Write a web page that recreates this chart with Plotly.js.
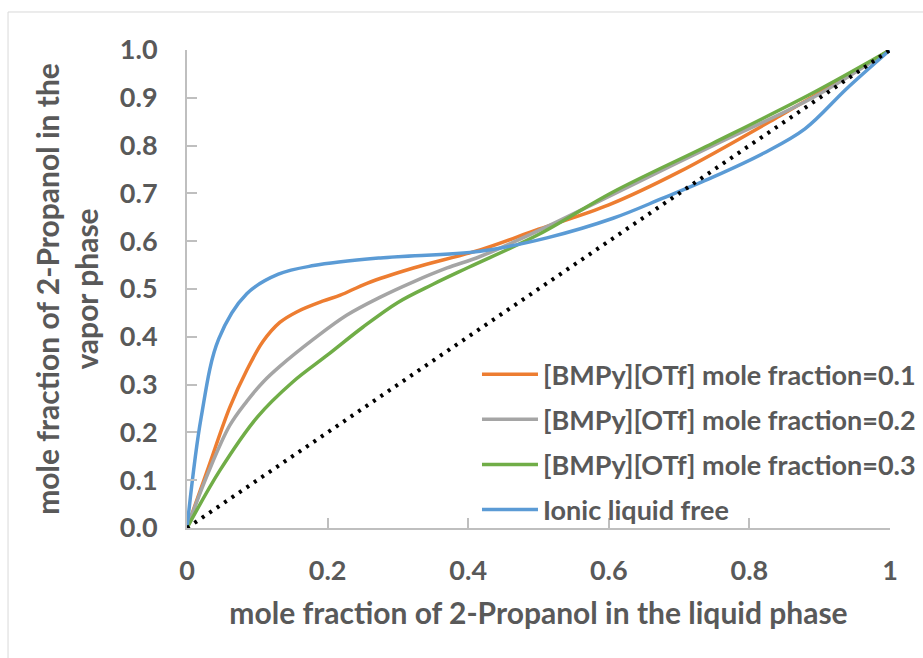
<!DOCTYPE html>
<html>
<head>
<meta charset="utf-8">
<script src="https://cdn.plot.ly/plotly-3.0.1.min.js"></script>
<style>html,body{margin:0;padding:0;background:#fff;}#chart{width:923px;height:658px;}</style>
</head>
<body>
<div id="chart"></div>
<script>
// Data
const seriesNames = [
  "[BMPy][OTf] mole fraction=0.1",
  "[BMPy][OTf] mole fraction=0.2",
  "[BMPy][OTf] mole fraction=0.3",
  "Ionic liquid free"
];
const x01 = [0, 0.03, 0.061, 0.085, 0.108, 0.132, 0.156, 0.194, 0.218, 0.256, 0.322, 0.417, 0.5, 0.6, 0.7, 0.843, 0.939, 1];
const y01 = [0, 0.125, 0.253, 0.33, 0.39, 0.43, 0.452, 0.475, 0.487, 0.512, 0.544, 0.582, 0.625, 0.676, 0.745, 0.862, 0.945, 1];
const x02 = [0, 0.03, 0.061, 0.085, 0.108, 0.132, 0.18, 0.227, 0.275, 0.322, 0.37, 0.417, 0.5, 0.606, 0.748, 0.89, 1];
const y02 = [0, 0.115, 0.215, 0.265, 0.305, 0.338, 0.395, 0.445, 0.483, 0.515, 0.544, 0.568, 0.622, 0.698, 0.8, 0.9, 1];
const x03 = [0, 0.047, 0.1, 0.15, 0.2, 0.25, 0.3, 0.35, 0.4, 0.5, 0.606, 0.748, 0.89, 1];
const y03 = [0, 0.121, 0.232, 0.305, 0.362, 0.42, 0.472, 0.51, 0.545, 0.614, 0.703, 0.805, 0.91, 1];
const xFree = [0, 0.02, 0.045, 0.085, 0.13, 0.18, 0.275, 0.417, 0.512, 0.606, 0.677, 0.748, 0.82, 0.879, 0.939, 1];
const yFree = [0, 0.23, 0.395, 0.49, 0.531, 0.549, 0.565, 0.579, 0.607, 0.648, 0.69, 0.734, 0.784, 0.835, 0.92, 1];
const xDiag = [0, 1];
const yDiag = [0, 1];
const xTicks = [0, 0.2, 0.4, 0.6, 0.8, 1];
const xTickText = ["0", "0.2", "0.4", "0.6", "0.8", "1"];
const yTicks = [0, 0.1, 0.2, 0.3, 0.4, 0.5, 0.6, 0.7, 0.8, 0.9, 1.0];
const yTickText = ["0.0", "0.1", "0.2", "0.3", "0.4", "0.5", "0.6", "0.7", "0.8", "0.9", "1.0"];

const colors = ["#ED7D31", "#A5A5A5", "#70AD47", "#5B9BD5"];
const FONT = "Lato, 'Open Sans', sans-serif";
const TXT = "#595959";

function series(x, y, i) {
  return {
    x: x, y: y, type: "scatter", mode: "lines", name: seriesNames[i],
    legendgroup: "g" + i,
    line: {color: colors[i], width: 3.5, shape: "spline", smoothing: 1}
  };
}

const traces = [
  series(x01, y01, 0),
  series(x02, y02, 1),
  series(x03, y03, 2),
  series(xFree, yFree, 3),
  {x: xDiag, y: yDiag, type: "scatter", mode: "lines", showlegend: false,
   line: {color: "#000000", width: 4, dash: "3px,6px"}}
];

const axisCommon = {
  showgrid: false, zeroline: false, showline: true,
  linecolor: "#BFBFBF", linewidth: 2,
  ticks: "inside", ticklen: 10, tickwidth: 2, tickcolor: "#BFBFBF",
  tickfont: {family: FONT, size: 27, color: TXT, weight: 700},
  fixedrange: true
};

const layout = {
  width: 923, height: 658,
  margin: {l: 187, r: 33, t: 50, b: 130, autoexpand: false},
  paper_bgcolor: "#ffffff", plot_bgcolor: "#ffffff",
  font: {family: FONT, color: TXT},
  showlegend: true,
  legend: {
    x: 0.4125, y: 0.372, xanchor: "left", yanchor: "top",
    bgcolor: "rgba(0,0,0,0)", tracegroupgap: 7, itemwidth: 56,
    font: {family: FONT, size: 27, color: TXT, weight: 700}
  },
  xaxis: Object.assign({}, axisCommon, {
    range: [0, 1], tickvals: xTicks, ticktext: xTickText,
    ticklabelstandoff: 18,
    title: {text: "mole fraction of 2-Propanol in the liquid phase", standoff: 18,
            font: {family: FONT, size: 30, color: TXT, weight: 700}}
  }),
  yaxis: Object.assign({}, axisCommon, {
    range: [0, 1], tickvals: yTicks, ticktext: yTickText,
    ticklabelstandoff: 22,
    title: {text: "mole fraction of 2-Propanol in the<br>vapor phase", standoff: 12,
            font: {family: FONT, size: 30, color: TXT, weight: 700}}
  }),
  shapes: [{
    type: "rect", xref: "paper", yref: "paper",
    x0: -0.2546, x1: 1.06, y0: -0.30, y1: 1.0795,
    line: {color: "#D9D9D9", width: 1}, fillcolor: "rgba(0,0,0,0)", layer: "below"
  }]
};

Plotly.newPlot("chart", traces, layout, {displayModeBar: false, staticPlot: true});
</script>
</body>
</html>
